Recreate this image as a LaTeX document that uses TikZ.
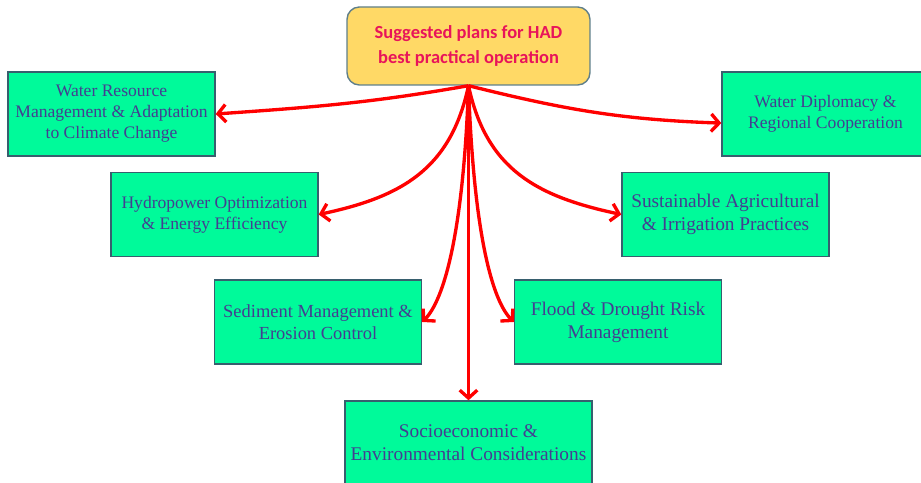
\documentclass[tikz,border=0pt]{standalone}
\usepackage{fontspec}
\setmainfont{Liberation Serif}
\newfontfamily\topfont{Carlito}
\usetikzlibrary{arrows.meta}
\definecolor{boxgreen}{RGB}{0,250,154}
\definecolor{boxedge}{RGB}{55,95,110}
\definecolor{boxtext}{RGB}{68,62,145}
\definecolor{topfill}{RGB}{255,217,102}
\definecolor{toptext}{RGB}{232,20,90}
\tikzset{
  planbox/.style={draw=boxedge, fill=boxgreen, line width=0.8pt, text=boxtext,
    minimum width=4.14cm, minimum height=1.68cm, align=center,
    font=\fontsize{10}{12}\selectfont},
  bigbox/.style={planbox, font=\fontsize{11}{13}\selectfont},
  topbox/.style={draw=boxedge!80, fill=topfill, line width=0.8pt, rounded corners=7pt,
    text=toptext, minimum width=4.86cm, minimum height=1.56cm, align=center,
    font=\topfont\bfseries\fontsize{10.5}{14}\selectfont},
  link/.style={draw=red, line width=1.9pt, -{Straight Barb[length=4.5pt,width=10pt,line width=1.9pt]}}
}
\begin{document}
\begin{tikzpicture}[x=0.02cm,y=0.02cm]
\useasboundingbox (0,0) rectangle (921,483);
\node[topbox] (plans) at (468.5,437) {Suggested plans for HAD\\best practical operation};
\node[planbox] (water) at (111.5,369) {Water Resource\\Management \& Adaptation\\to Climate Change};
\node[planbox] (diplo) at (825.5,369) {Water Diplomacy \&\\Regional Cooperation};
\node[planbox] (hydro) at (214.5,268.5) {Hydropower Optimization\\\& Energy Efficiency};
\node[bigbox] (agri) at (725.5,268.5) {Sustainable Agricultural\\\& Irrigation Practices};
\node[planbox, font=\fontsize{10.5}{12.5}\selectfont] (sedim) at (318,161) {Sediment Management \&\\Erosion Control};
\node[bigbox] (flood) at (618,161) {Flood \& Drought Risk\\Management};
\node[bigbox, minimum width=4.86cm] (socio) at (468.5,40) {Socioeconomic \&\\Environmental Considerations};
% connectors
\draw[link] (plans.south) to[out=190,in=4] (water.east);
\draw[link] (plans.south) to[out=-14,in=178] (diplo.185);
\draw[link] (plans.south) to[out=258,in=12,looseness=1.1] (hydro.east);
\draw[link] (plans.south) to[out=-78,in=168,looseness=1.1] (agri.west);
\draw[link] (plans.south) .. controls +(268:150) and +(45:30) .. (sedim.east);
\draw[link] (plans.south) .. controls +(272:150) and +(135:30) .. (flood.west);
\draw[link] (plans.south) -- (socio.north);
\end{tikzpicture}
\end{document}
